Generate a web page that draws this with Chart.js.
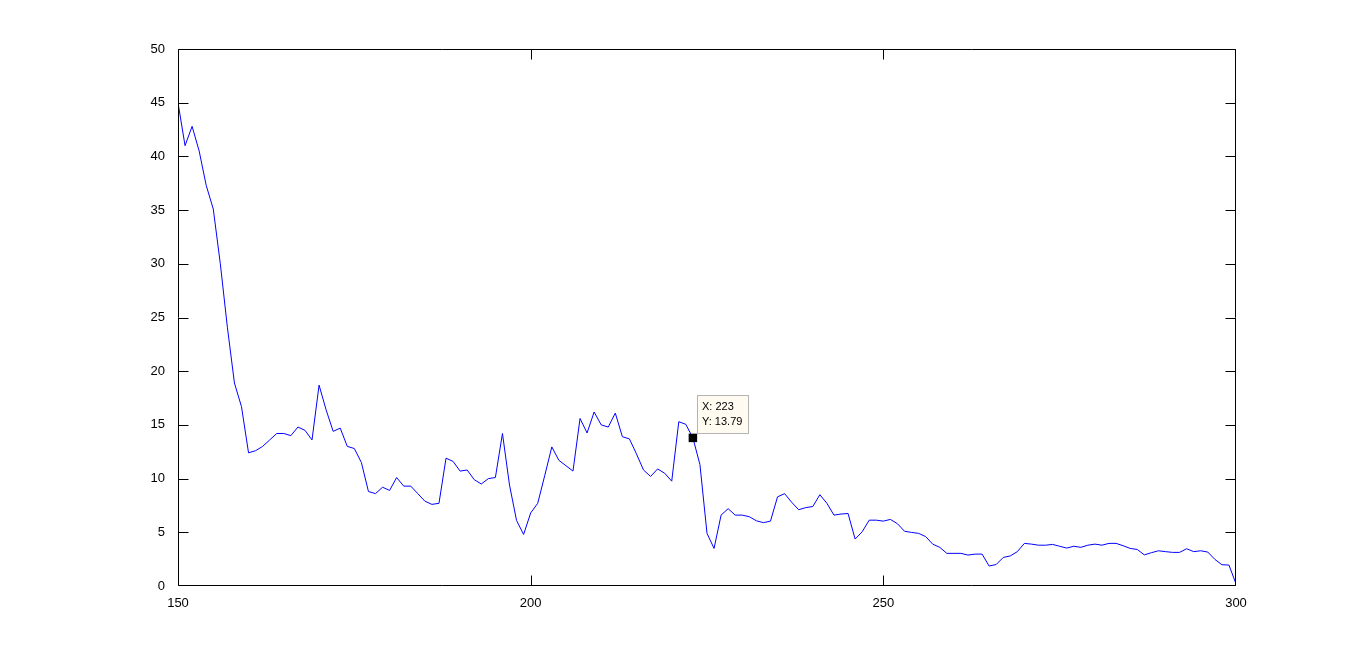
<!DOCTYPE html>
<html>
<head>
<meta charset="utf-8">
<script src="https://cdn.jsdelivr.net/npm/chart.js@4.4.1/dist/chart.umd.min.js"></script>
<style>
  html, body { margin: 0; padding: 0; background: #fff; }
  canvas { display: block; }
</style>
</head>
<body>
<canvas id="plot" width="1366" height="658"></canvas>
<script>
// sample index (x) and measured value (y)
const xValues = [
  150, 151, 152, 153, 154, 155, 156, 157, 158, 159,
  160, 161, 162, 163, 164, 165, 166, 167, 168, 169,
  170, 171, 172, 173, 174, 175, 176, 177, 178, 179,
  180, 181, 182, 183, 184, 185, 186, 187, 188, 189,
  190, 191, 192, 193, 194, 195, 196, 197, 198, 199,
  200, 201, 202, 203, 204, 205, 206, 207, 208, 209,
  210, 211, 212, 213, 214, 215, 216, 217, 218, 219,
  220, 221, 222, 223, 224, 225, 226, 227, 228, 229,
  230, 231, 232, 233, 234, 235, 236, 237, 238, 239,
  240, 241, 242, 243, 244, 245, 246, 247, 248, 249,
  250, 251, 252, 253, 254, 255, 256, 257, 258, 259,
  260, 261, 262, 263, 264, 265, 266, 267, 268, 269,
  270, 271, 272, 273, 274, 275, 276, 277, 278, 279,
  280, 281, 282, 283, 284, 285, 286, 287, 288, 289,
  290, 291, 292, 293, 294, 295, 296, 297, 298, 299,
  300
];
const yValues = [
  45.0, 41.0, 42.8, 40.5, 37.3, 35.1, 30.0, 24.1, 18.9, 16.7,
  12.4, 12.6, 13.0, 13.6, 14.2, 14.2, 14.0, 14.8, 14.5, 13.6,
  18.7, 16.4, 14.4, 14.7, 13.0, 12.8, 11.5, 8.8, 8.6, 9.2,
  8.9, 10.1, 9.3, 9.3, 8.6, 7.9, 7.6, 7.7, 11.9, 11.6,
  10.7, 10.8, 9.9, 9.5, 10.0, 10.1, 14.2, 9.4, 6.1, 4.8,
  6.8, 7.7, 10.3, 12.95, 11.7, 11.2, 10.7, 15.6, 14.25, 16.2,
  15.0, 14.8, 16.1, 13.9, 13.7, 12.3, 10.8, 10.2, 10.9, 10.5,
  9.76, 15.3, 15.05, 13.79, 11.3, 4.9, 3.5, 6.6, 7.2, 6.6,
  6.6, 6.45, 6.07, 5.9, 6.04, 8.3, 8.6, 7.8, 7.1, 7.3,
  7.4, 8.5, 7.7, 6.6, 6.7, 6.75, 4.37, 5.05, 6.13, 6.13,
  6.04, 6.2, 5.8, 5.1, 4.99, 4.9, 4.6, 3.9, 3.6, 3.04,
  3.04, 3.04, 2.88, 2.97, 2.97, 1.86, 2.0, 2.66, 2.8, 3.2,
  3.97, 3.9, 3.8, 3.8, 3.87, 3.7, 3.53, 3.7, 3.6, 3.8,
  3.9, 3.8, 3.97, 3.97, 3.75, 3.5, 3.4, 2.9, 3.1, 3.28,
  3.2, 3.13, 3.13, 3.47, 3.2, 3.28, 3.16, 2.48, 1.98, 1.95,
  0.2
];

// data cursor
const tipX = [223];
const tipY = [13.79];

// axis ticks
const xTicks = [150, 200, 250, 300];
const yTicks = [0, 5, 10, 15, 20, 25, 30, 35, 40, 45, 50];

const tickFont = { family: '"Liberation Sans", Arial, sans-serif', size: 13 };

// box around the axes plus inward tick marks on all four sides, and the datatip
const axesBox = {
  id: 'axesBox',
  afterDatasetsDraw(chart) {
    const { ctx, chartArea: a, scales } = chart;
    const L = Math.round(a.left) + 0.5, R = Math.round(a.right) - 0.5;
    const T = Math.round(a.top) + 0.5, B = Math.round(a.bottom) - 0.5;
    const len = 10;
    const clamp = (v, lo, hi) => Math.min(hi, Math.max(lo, v));
    ctx.save();
    ctx.strokeStyle = '#000';
    ctx.lineWidth = 1;
    ctx.beginPath();
    ctx.rect(L, T, R - L, B - T);
    xTicks.forEach(v => {
      const px = clamp(Math.round(scales.x.getPixelForValue(v)) + 0.5, L, R);
      ctx.moveTo(px, B); ctx.lineTo(px, B - len);
      ctx.moveTo(px, T); ctx.lineTo(px, T + len);
    });
    yTicks.forEach(v => {
      const py = clamp(Math.round(scales.y.getPixelForValue(v)) + 0.5, T, B);
      ctx.moveTo(L, py); ctx.lineTo(L + len, py);
      ctx.moveTo(R, py); ctx.lineTo(R - len, py);
    });
    ctx.stroke();

    // datatip label
    const pt = chart.getDatasetMeta(1).data[0];
    const lines = ['X: ' + tipX[0], 'Y: ' + tipY[0].toFixed(2)];
    ctx.font = '11px "Liberation Sans", Arial, sans-serif';
    const w = Math.ceil(Math.max(...lines.map(s => ctx.measureText(s).width))) + 10;
    const h = 38;
    const bx = Math.round(pt.x) + 4, by = Math.round(pt.y) - 43;
    ctx.fillStyle = '#fffbf0';
    ctx.fillRect(bx, by, w, h);
    ctx.strokeStyle = '#b4b4b4';
    ctx.strokeRect(bx + 0.5, by + 0.5, w, h);
    ctx.fillStyle = '#000';
    ctx.textBaseline = 'middle';
    ctx.fillText(lines[0], bx + 5, by + 12);
    ctx.fillText(lines[1], bx + 5, by + 27);
    ctx.restore();
  }
};

const ctx = document.getElementById('plot').getContext('2d');
new Chart(ctx, {
  type: 'line',
  data: {
    labels: xValues,
    datasets: [{
      data: yValues,
      borderColor: '#0000ff',
      borderWidth: 1,
      pointRadius: 0,
      tension: 0,
      fill: false,
      order: 1
    }, {
      data: [{ x: tipX[0], y: tipY[0] }],
      showLine: false,
      pointStyle: 'rect',
      pointRadius: 6,
      pointBorderWidth: 0,
      pointBackgroundColor: '#000',
      order: 0
    }]
  },
  options: {
    responsive: false,
    animation: false,
    devicePixelRatio: 1,
    events: [],
    layout: { padding: { left: 0, right: 130, top: 49, bottom: 0 } },
    plugins: { legend: { display: false }, tooltip: { enabled: false } },
    scales: {
      x: {
        type: 'linear',
        min: 150,
        max: 300,
        afterBuildTicks: s => { s.ticks = xTicks.map(v => ({ value: v })); },
        afterFit: s => { s.height = 72; },
        grid: { display: false },
        border: { display: false },
        ticks: { color: '#000', font: tickFont, padding: 2, maxRotation: 0, autoSkip: false }
      },
      y: {
        min: 0,
        max: 50,
        afterBuildTicks: s => { s.ticks = yTicks.map(v => ({ value: v })); },
        afterFit: s => { s.width = 178; },
        grid: { display: false },
        border: { display: false },
        ticks: { color: '#000', font: tickFont, padding: 5, autoSkip: false }
      }
    }
  },
  plugins: [axesBox]
});
</script>
</body>
</html>
